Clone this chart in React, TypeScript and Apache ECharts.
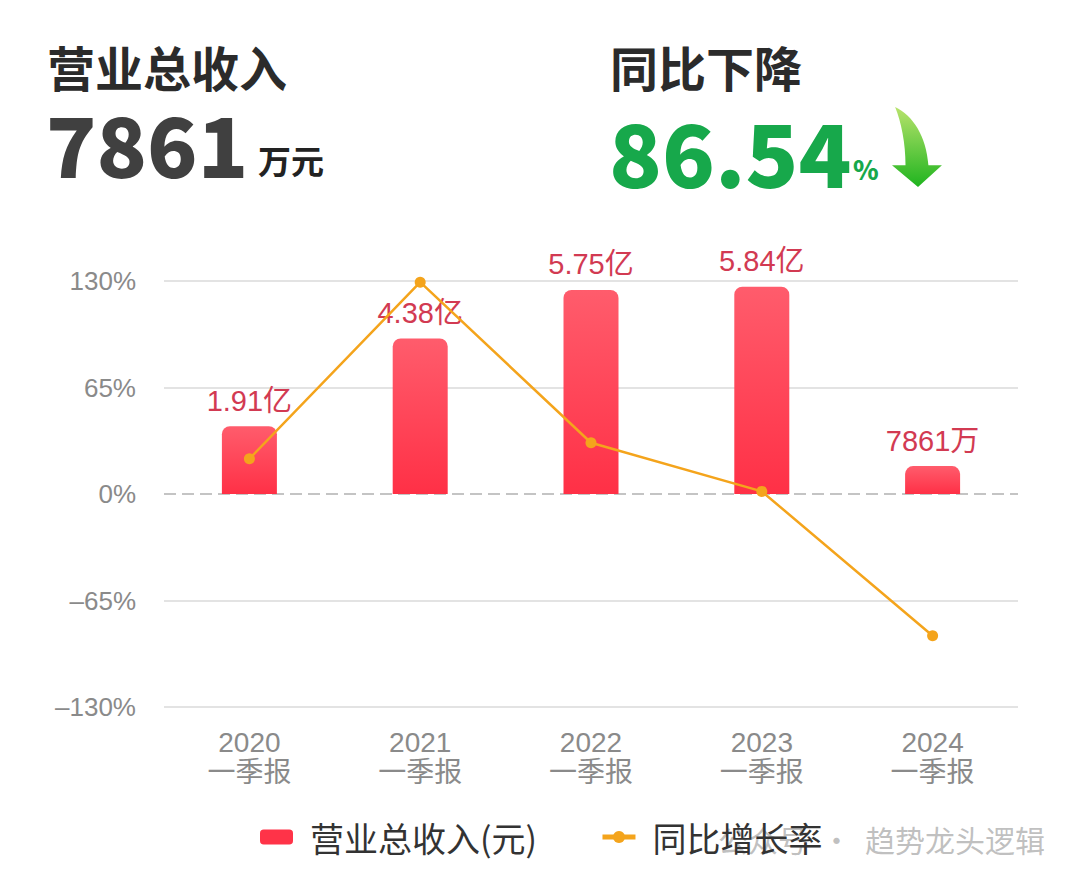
import React, { useEffect, useRef } from "react";
import * as echarts from "echarts";

const categories = ["2020\n一季报", "2021\n一季报", "2022\n一季报", "2023\n一季报", "2024\n一季报"];
const revenue = [1.91, 4.38, 5.75, 5.84, 0.7861]; // 亿元
const revenueLabels = ["1.91亿", "4.38亿", "5.75亿", "5.84亿", "7861万"];
const yoyGrowth = [21.5, 129.3, 31.3, 1.6, -86.54]; // %
const yTicks = { min: -130, max: 130, interval: 65 };
const headerLeftTitle = "营业总收入";
const headerLeftValue = "7861";
const headerLeftUnit = "万元";
const headerRightTitle = "同比下降";
const headerRightValue = "86.54";
const headerRightUnit = "%";
const seriesNames = ["营业总收入(元)", "同比增长率"];
const watermark = "公众号  ·  趋势龙头逻辑";

const ARROW_D =
  "M 3 0 C 20 8 33 28 35 56 L 48 56 L 25 77 L 0 56 L 13 56 C 13 35 9 15 3 0 Z";
let registered = false;

export default function App() {
  const ref = useRef<HTMLDivElement>(null);
  useEffect(() => {
    if (!ref.current) return;
    if (!registered) {
      echarts.graphic.registerShape("downArrow", echarts.graphic.extendPath(ARROW_D as any, {}) as any);
      registered = true;
    }
    const chart = echarts.init(ref.current, null, { renderer: "svg" });
    const cjk = '"Noto Sans CJK SC", "Noto Sans", sans-serif';
    const latin = '"Liberation Sans", "Noto Sans CJK SC", sans-serif';
    chart.setOption({
      animation: false,
      backgroundColor: "#ffffff",
      textStyle: { fontFamily: cjk },
      grid: { left: 164, right: 62, top: 281, bottom: 174, containLabel: false },
      legend: {
        left: 255,
        top: 815,
        itemWidth: 33,
        itemHeight: 15,
        itemGap: 63,
        textStyle: { fontSize: 34, color: "#333", fontFamily: cjk, padding: [0, 0, 0, 12] },
        data: [
          { name: seriesNames[0], icon: "roundRect", itemStyle: { color: "#ff3348" } },
          { name: seriesNames[1], lineStyle: { width: 5 } },
        ],
      },
      xAxis: {
        type: "category",
        data: categories,
        axisLine: { show: false },
        axisTick: { show: false },
        axisLabel: { color: "#8a8a8a", fontSize: 28, lineHeight: 30, margin: 20, fontFamily: latin },
      },
      yAxis: [
        {
          type: "value",
          min: yTicks.min,
          max: yTicks.max,
          interval: yTicks.interval,
          axisLine: { show: false },
          axisTick: { show: false },
          axisLabel: {
            color: "#8a8a8a",
            fontSize: 26,
            margin: 28,
            fontFamily: latin,
            formatter: (v: number) => (v < 0 ? "–" + Math.abs(v) + "%" : v + "%"),
          },
          splitLine: {
            lineStyle: {
              color: ["#e3e3e3", "#e3e3e3", "rgba(0,0,0,0)", "#e3e3e3", "#e3e3e3"],
              width: 2,
            },
          },
        },
        {
          type: "value",
          min: -6,
          max: 6,
          show: false,
          splitLine: { show: false },
        },
      ],
      series: [
        {
          name: seriesNames[0],
          type: "bar",
          yAxisIndex: 1,
          barWidth: 55,
          data: revenue,
          itemStyle: {
            borderRadius: [8, 8, 0, 0],
            color: new echarts.graphic.LinearGradient(0, 0, 0, 1, [
              { offset: 0, color: "#ff5c6c" },
              { offset: 1, color: "#ff3046" },
            ]),
          },
          label: {
            show: true,
            position: "top",
            distance: 11,
            color: "#d23a52",
            fontSize: 29,
            fontFamily: latin,
            formatter: (p: any) => revenueLabels[p.dataIndex],
          },
          z: 2,
        },
        {
          name: seriesNames[1],
          type: "line",
          yAxisIndex: 0,
          data: yoyGrowth,
          symbol: "circle",
          symbolSize: 11,
          lineStyle: { color: "#f4a41c", width: 2.5 },
          itemStyle: { color: "#f4a41c" },
          z: 3,
          markLine: {
            silent: true,
            symbol: "none",
            label: { show: false },
            lineStyle: { color: "#c4c4c4", type: [12, 6], width: 2 },
            data: [{ yAxis: 0 }],
            z: 1,
          },
        },
      ],
      graphic: [
        {
          type: "text",
          x: 47,
          y: 66,
          style: { text: headerLeftTitle, fill: "#2b2b2b", font: `bold 48px ${cjk}`, verticalAlign: "middle", lineHeight: 48 },
        },
        {
          type: "text",
          x: 46,
          y: 142,
          style: {
            text: headerLeftValue,
            fill: "#404040",
            font: `900 83px ${cjk}`,
            verticalAlign: "middle",
            lineHeight: 66,
          },
        },
        {
          type: "text",
          x: 258,
          y: 160,
          style: { text: headerLeftUnit, fill: "#222", font: `bold 33px ${cjk}`, verticalAlign: "middle" },
        },
        {
          type: "text",
          x: 610,
          y: 66,
          style: { text: headerRightTitle, fill: "#2b2b2b", font: `bold 48px ${cjk}`, verticalAlign: "middle", lineHeight: 48 },
        },
        {
          type: "text",
          x: 609,
          y: 150,
          style: {
            text: headerRightValue,
            fill: "#17a84b",
            font: `900 87px ${cjk}`,
            verticalAlign: "middle",
            lineHeight: 66,
          },
        },
        {
          type: "text",
          x: 853,
          y: 168,
          style: { text: headerRightUnit, fill: "#17a84b", font: `900 26px ${cjk}`, verticalAlign: "middle" },
        },
        {
          type: "downArrow",
          x: 892,
          y: 107,
          scaleX: 1.04,
          scaleY: 1.04,
          style: {
            fill: new echarts.graphic.LinearGradient(0, 0, 0, 1, [
              { offset: 0, color: "#b8e36c" },
              { offset: 1, color: "#1fb41f" },
            ]),
          },
        },
        {
          type: "text",
          x: 1045,
          y: 839,
          z: -1,
          style: {
            text: watermark,
            fill: "rgba(150,150,150,0.6)",
            font: `400 30px ${cjk}`,
            align: "right",
            verticalAlign: "middle",
          },
        },
      ],
    });
    return () => chart.dispose();
  }, []);
  return <div ref={ref} style={{ position: "absolute", left: 0, top: 0, width: 1080, height: 881 }} />;
}
